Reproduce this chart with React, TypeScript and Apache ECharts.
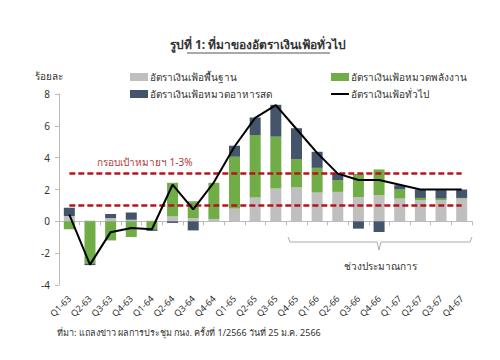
import React, { useEffect, useRef } from "react";
import * as echarts from "echarts";

const categories = ["Q1-63","Q2-63","Q3-63","Q4-63","Q1-64","Q2-64","Q3-64","Q4-64","Q1-65","Q2-65","Q3-65","Q4-65","Q1-66","Q2-66","Q3-66","Q4-66","Q1-67","Q2-67","Q3-67","Q4-67"];
const coreValues = [0.33,0.05,0.2,0.1,0.05,0.31,0.2,0.15,0.8,1.5,2.06,2.13,1.81,1.85,1.53,1.64,1.43,1.32,1.32,1.43];
const energyValues = [-0.49,-2.65,-1.2,-0.99,-0.5,2.11,1.06,2.27,3.26,3.93,3.26,1.78,1.55,0.74,1.44,1.62,0.57,0.15,0.11,0.04];
const foodValues = [0.53,-0.1,0.26,0.45,-0.1,-0.1,-0.57,0,0.69,1.09,2.0,1.94,1.01,0.42,-0.46,-0.67,0.27,0.53,0.53,0.53];
const headlineValues = [0.42,-2.72,-0.68,-0.42,-0.5,2.3,0.75,2.45,4.7,6.5,7.3,5.8,4.3,3.0,2.6,2.6,2.3,2.0,2.0,2.0];
const targetBand = [1, 3];
const yTicks = { min: -4, max: 8, interval: 2 };

const names = {
  core: "อัตราเงินเฟ้อพื้นฐาน",
  energy: "อัตราเงินเฟ้อหมวดพลังงาน",
  food: "อัตราเงินเฟ้อหมวดอาหารสด",
  headline: "อัตราเงินเฟ้อทั่วไป",
};

const FONT = "Noto Sans, sans-serif";

export default function App() {
  const ref = useRef<HTMLDivElement>(null);
  useEffect(() => {
    if (!ref.current) return;
    const chart = echarts.init(ref.current, undefined, { renderer: "svg" });
    const barCommon = { type: "bar", stack: "total", barWidth: 11 };
    const legendText = { fontSize: 10, color: "#333", fontFamily: FONT, padding: [0, 0, 0, -3] };
    chart.setOption({
      animation: false,
      backgroundColor: "#fff",
      textStyle: { fontFamily: FONT },
      grid: { left: 59, top: 94, width: 413, height: 191, containLabel: false, outerBoundsMode: "none" },
      legend: [
        {
          left: 125, top: 67, orient: "vertical", itemWidth: 18, itemHeight: 8, itemGap: 7,
          data: [{ name: names.core, icon: "rect" }, { name: names.food, icon: "rect" }],
          textStyle: legendText,
        },
        {
          left: 326, top: 67, orient: "vertical", itemWidth: 18, itemHeight: 8, itemGap: 7,
          data: [
            { name: names.energy, icon: "rect" },
            { name: names.headline, icon: "path://M0,0H18V2H0Z" },
          ],
          textStyle: legendText,
        },
      ],
      xAxis: {
        type: "category",
        data: categories,
        axisLine: { onZero: true, lineStyle: { color: "#bbb" } },
        axisTick: { show: true, length: 4, lineStyle: { color: "#bbb" } },
        axisLabel: { rotate: 45, margin: 12, fontSize: 9, color: "#333", fontFamily: FONT },
      },
      yAxis: {
        type: "value",
        min: yTicks.min, max: yTicks.max, interval: yTicks.interval,
        splitLine: { show: false },
        axisLine: { show: true, lineStyle: { color: "#bbb" } },
        axisTick: { show: true, length: 4, lineStyle: { color: "#bbb" } },
        axisLabel: { fontSize: 10, color: "#333", margin: 9, fontFamily: FONT },
      },
      series: [
        { ...barCommon, name: names.core, data: coreValues, itemStyle: { color: "#bfbfbf" } },
        { ...barCommon, name: names.energy, data: energyValues, itemStyle: { color: "#70ad47" } },
        { ...barCommon, name: names.food, data: foodValues, itemStyle: { color: "#44546a" } },
        {
          type: "line", name: names.headline, data: headlineValues,
          symbol: "none", lineStyle: { color: "#000", width: 2 }, itemStyle: { color: "#000" }, z: 5,
          markLine: {
            silent: true, symbol: "none", label: { show: false },
            lineStyle: { color: "#b5151b", width: 2.5, type: [6, 3] },
            data: targetBand.map((v) => [
              { coord: [0, v] },
              { coord: [categories.length - 1, v] },
            ]),
          },
        },
      ],
      graphic: [
        {
          type: "text", x: 258, y: 38,
          style: { text: "รูปที่ 1: ที่มาของอัตราเงินเฟ้อทั่วไป", fill: "#333", font: `bold 12px ${FONT}`, textAlign: "center" },
        },
        { type: "line", shape: { x1: 187, y1: 53, x2: 330, y2: 53 }, style: { stroke: "#555", lineWidth: 1 } },
        { type: "text", x: 35, y: 71, style: { text: "ร้อยละ", fill: "#333", font: `10px ${FONT}` } },
        { type: "text", x: 97, y: 157, style: { text: "กรอบเป้าหมายฯ 1-3%", fill: "#b0393b", font: `10px ${FONT}` } },
        {
          type: "polyline",
          shape: { points: [[288, 237], [290, 242], [377, 242], [379, 250], [381, 242], [470, 242], [472, 237]] },
          style: { stroke: "#aaa", lineWidth: 1, fill: null },
        },
        { type: "text", x: 380, y: 261, style: { text: "ช่วงประมาณการ", fill: "#333", font: `10px ${FONT}`, textAlign: "center" } },
        { type: "text", x: 57, y: 328, style: { text: "ที่มา: แถลงข่าว ผลการประชุม กนง. ครั้งที่ 1/2566 วันที่ 25 ม.ค. 2566", fill: "#333", font: `9px ${FONT}` } },
      ],
    });
    return () => chart.dispose();
  }, []);
  return <div ref={ref} style={{ position: "absolute", left: 0, top: 0, width: 500, height: 360 }} />;
}
